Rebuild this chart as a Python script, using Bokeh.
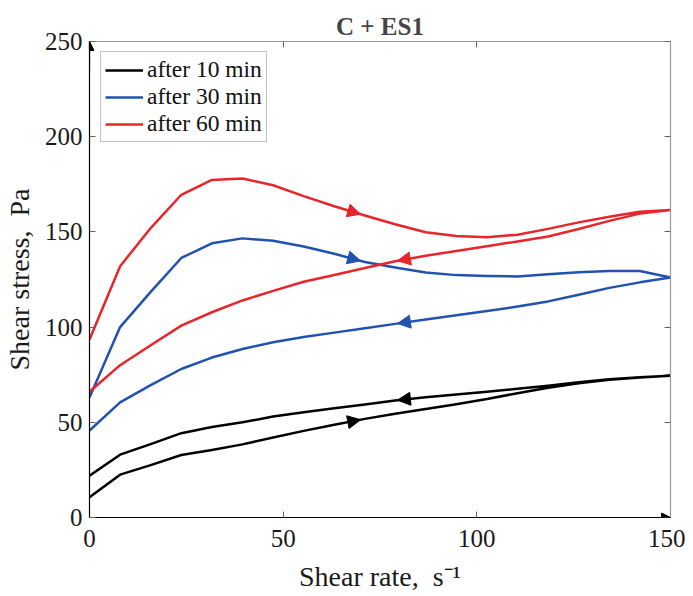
import numpy as np
from bokeh.plotting import figure
from bokeh.models import (Arrow, NormalHead, LinearAxis, Range1d, FixedTicker,
                          Legend, LegendItem)
from bokeh.embed import file_html
from bokeh.resources import INLINE

# ---------------- data ----------------
shear_rate = [0, 7.9, 15.8, 23.7, 31.6, 39.5, 47.4, 55.3, 63.2, 71.1,
              78.9, 86.8, 94.7, 102.6, 110.5, 118.4, 126.3, 134.2, 142.1, 150]

# after 10 min
up_10 = [10.7, 22.5, 27.5, 32.8, 35.5, 38.4, 42.0, 45.5, 48.7, 51.8,
         54.5, 57.0, 59.5, 62.2, 65.3, 68.2, 70.5, 72.3, 73.5, 74.5]
down_10 = [22.0, 33.0, 38.5, 44.3, 47.5, 50.0, 53.0, 55.3, 57.4, 59.4,
           61.5, 63.2, 64.6, 66.0, 67.6, 69.2, 71.0, 72.6, 73.6, 74.5]
# after 30 min
up_30 = [63.0, 100.0, 118.5, 136.3, 144.0, 146.6, 145.3, 142.3, 138.5, 134.2,
         131.3, 128.7, 127.3, 126.8, 126.6, 127.8, 128.8, 129.4, 129.5, 126.0]
down_30 = [45.7, 60.5, 69.5, 78.0, 84.0, 88.5, 92.0, 94.8, 97.1, 99.4,
           101.7, 104.0, 106.2, 108.4, 110.8, 113.5, 117.0, 120.6, 123.5, 126.0]
# after 60 min
up_60 = [93.5, 132.0, 152.0, 169.5, 177.3, 178.0, 174.5, 168.8, 163.5, 158.6,
         154.0, 149.8, 147.8, 147.2, 148.5, 151.6, 155.0, 158.0, 160.6, 161.5]
down_60 = [66.0, 80.0, 90.5, 100.8, 107.8, 114.0, 119.0, 123.8, 127.4, 131.0,
           134.6, 137.5, 140.0, 142.5, 145.0, 147.6, 151.5, 155.8, 159.6, 161.5]

series_labels = ["after 10 min", "after 30 min", "after 60 min"]
series_colors = ["#000000", "#2152B0", "#E8252B"]

x_ticks = [0, 50, 100, 150]
y_ticks = [0, 50, 100, 150, 200, 250]

arrow_up_tip = 70.0
arrow_down_tip = 79.5
arrow_len = 4.0

FONT = "Liberation Serif"

# ---------------- figure ----------------
p = figure(frame_width=581, frame_height=476,
           x_range=Range1d(0, 150), y_range=Range1d(0, 250),
           output_backend="svg", toolbar_location=None,
           min_border_left=81, min_border_right=15,
           min_border_top=41, min_border_bottom=60)
p.background_fill_color = "white"
p.border_fill_color = "white"
p.outline_line_color = "#999999"
p.xgrid.visible = False
p.ygrid.visible = False

p.title.text = "C + ES1"
p.title.text_font = FONT
p.title.text_font_style = "bold"
p.title.text_font_size = "25px"
p.title.align = "center"
p.title.standoff = 4

def style_axis(ax, ticks, line_color, show_labels=True):
    ax.ticker = FixedTicker(ticks=ticks)
    ax.major_tick_in = 6
    ax.major_tick_out = 0
    ax.minor_tick_line_color = None
    ax.major_tick_line_color = "#666666"
    ax.axis_line_color = line_color
    ax.axis_line_width = 1.2
    ax.major_label_text_font = FONT
    if show_labels:
        ax.major_label_text_font_size = "25px"
        ax.major_label_text_color = "#1a1a1a"
    else:
        ax.major_label_text_font_size = "1px"
        ax.major_label_text_color = None
        ax.major_label_standoff = 0

style_axis(p.xaxis[0], x_ticks, "#000000")
style_axis(p.yaxis[0], y_ticks, "#000000")
p.xaxis.major_label_standoff = 12
p.yaxis.major_label_standoff = 7

p.xaxis.axis_label = "Shear rate,\u00a0 s\u207b\u00b9"
p.yaxis.axis_label = "Shear stress,\u00a0 Pa"
for ax in (p.xaxis[0], p.yaxis[0]):
    ax.axis_label_text_font = FONT
    ax.axis_label_text_font_size = "28px"
    ax.axis_label_text_font_style = "normal"
    ax.axis_label_text_color = "#1a1a1a"
p.xaxis.axis_label_standoff = 11
p.yaxis.axis_label_standoff = 7

top_ax = LinearAxis()
right_ax = LinearAxis()
style_axis(top_ax, x_ticks, "#999999", show_labels=False)
style_axis(right_ax, y_ticks, "#999999", show_labels=False)
p.add_layout(top_ax, "above")
p.add_layout(right_ax, "right")

# ---------------- curves ----------------
x = np.array(shear_rate)
curves = [(up_10, down_10), (up_30, down_30), (up_60, down_60)]
items = []
for (up, down), lab, col in zip(curves, series_labels, series_colors):
    up = np.array(up)
    down = np.array(down)
    xs = np.concatenate([x, x[::-1]])
    ys = np.concatenate([up, down[::-1]])
    r = p.line(xs, ys, line_color=col, line_width=2.5, line_join="round")
    items.append(LegendItem(label=lab, renderers=[r]))
    # direction arrows
    xs0 = arrow_up_tip - arrow_len
    p.add_layout(Arrow(end=NormalHead(size=13, fill_color=col, line_color=col, line_width=1),
                       x_start=xs0, y_start=float(np.interp(xs0, x, up)),
                       x_end=arrow_up_tip, y_end=float(np.interp(arrow_up_tip, x, up)),
                       line_alpha=0))
    xs1 = arrow_down_tip + arrow_len
    p.add_layout(Arrow(end=NormalHead(size=13, fill_color=col, line_color=col, line_width=1),
                       x_start=xs1, y_start=float(np.interp(xs1, x, down)),
                       x_end=arrow_down_tip, y_end=float(np.interp(arrow_down_tip, x, down)),
                       line_alpha=0))

# axis arrows
p.add_layout(Arrow(end=NormalHead(size=9, fill_color="black", line_color="black", line_width=1),
                   x_start=0, y_start=235, x_end=0, y_end=250,
                   line_color="black", line_width=1.2))
p.add_layout(Arrow(end=NormalHead(size=9, fill_color="black", line_color="black", line_width=1),
                   x_start=143, y_start=0, x_end=150, y_end=0,
                   line_color="black", line_width=1.2))

legend = Legend(items=items, location=(11, 375))
legend.label_text_font = FONT
legend.label_text_font_size = "23.5px"
legend.label_text_color = "#111111"
legend.glyph_width = 38
legend.glyph_height = 26
legend.label_height = 26
legend.label_standoff = 4
legend.spacing = 0
legend.padding = 4
legend.margin = 0
legend.border_line_color = "#888888"
legend.border_line_width = 1
legend.background_fill_color = "white"
legend.background_fill_alpha = 1
p.add_layout(legend)

open("out.html", "w").write(file_html(p, INLINE))
